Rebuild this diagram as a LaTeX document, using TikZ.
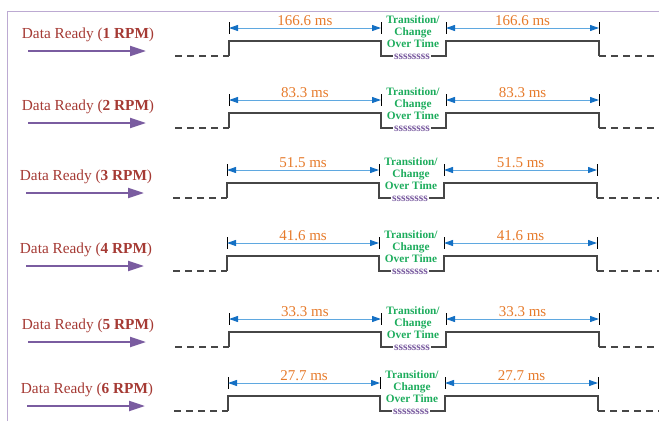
\documentclass[tikz,border=0pt]{standalone}
\usepackage{fontspec}
\setmainfont{Liberation Serif}
\usetikzlibrary{arrows.meta,calc}

\definecolor{lblred}{RGB}{165,58,52}
\definecolor{timeorange}{RGB}{230,122,42}
\definecolor{transgreen}{RGB}{28,172,92}
\definecolor{readypurple}{RGB}{122,92,160}
\definecolor{dimblue}{RGB}{20,112,196}
\definecolor{dimline}{RGB}{95,168,224}
\definecolor{framelav}{RGB}{188,170,210}
\definecolor{sigcol}{RGB}{70,70,70}

\tikzset{
  lbl/.style={text=lblred, font=\fontsize{15.3}{17}\selectfont, inner sep=0pt},
  readyarrow/.style={draw=readypurple, line width=2.2pt,
    -{Triangle[length=16pt,width=10pt]}},
  sig/.style={draw=sigcol, line width=1.3pt},
  sigdash/.style={sig, dash pattern=on 7pt off 5pt},
  squig/.style={text=readypurple, font=\bfseries\fontsize{11.5}{11.5}\selectfont,
    inner sep=1pt},
  tick/.style={draw=black, line width=0.9pt},
  dimarrow/.style={draw=dimline, line width=1pt,
    {Triangle[length=9pt,width=6pt,color=dimblue]}-{Triangle[length=9pt,width=6pt,color=dimblue]}},
  timelbl/.style={text=timeorange, font=\fontsize{15}{17}\selectfont, inner sep=0pt},
  trans/.style={text=transgreen, font=\bfseries\fontsize{11.3}{12}\selectfont,
    align=center, inner sep=0pt},
  frameline/.style={draw=framelav, line width=1pt}
}

\begin{document}
\begin{tikzpicture}[x=1pt, y=-1pt]
  \useasboundingbox (0,0) rectangle (659,421);

  % open frame: left and top edges
  \coordinate (fbl) at (7,421);
  \coordinate (ftl) at (7,11);
  \coordinate (ftr) at (659,11);
  \draw[frameline] (fbl) -- (ftl) -- (ftr);

  % one timing row per rate: high level y, x shift, rpm, period
  \foreach \H/\dx/\rpm/\per [count=\i] in
    {41/0/1/166.6, 113/0/2/83.3, 183/-2/3/51.5,
     256/-2/4/41.6, 332/0/5/33.3, 396/-1/6/27.7}
  {
    % label and data-ready arrow
    \node[lbl] (lbl\i) at (88+\dx,\H-6) {Data Ready (\textbf{\rpm\ RPM})};
    \coordinate (as\i) at (28+\dx,\H+10);
    \coordinate (ae\i) at (146+\dx,\H+10);
    \draw[readyarrow] (as\i) -- (ae\i);

    % waveform points
    \coordinate (d\i)   at (175+\dx,\H+15);
    \coordinate (rl\i)  at (229+\dx,\H+15);
    \coordinate (rh\i)  at (229+\dx,\H);
    \coordinate (fh\i)  at (381+\dx,\H);
    \coordinate (fl\i)  at (381+\dx,\H+15);
    \coordinate (sl\i)  at (446+\dx,\H+15);
    \coordinate (sh\i)  at (446+\dx,\H);
    \coordinate (gh\i)  at (599+\dx,\H);
    \coordinate (gl\i)  at (599+\dx,\H+15);
    \coordinate (e\i)   at (659,\H+15);
    \node[squig] (sq\i) at (412+\dx,\H+15.5) {ssssssss};

    \draw[sigdash] (d\i) -- (rl\i);
    \draw[sig] (rl\i) -- (rh\i) -- (fh\i) -- (fl\i) -- (fl\i -| sq\i.west);
    \draw[sig] (sl\i -| sq\i.east) -- (sl\i) -- (sh\i) -- (gh\i) -- (gl\i);
    \draw[sigdash] (gl\i) -- (e\i);

    % dimension ticks
    \foreach \k/\xx in {a/229, b/381, c/446, d/599}{
      \coordinate (t\k u\i) at (\xx+\dx,\H-19);
      \coordinate (t\k d\i) at (\xx+\dx,\H-7);
      \coordinate (t\k m\i) at (\xx+\dx,\H-13);
      \draw[tick] (t\k u\i) -- (t\k d\i);
    }
    \draw[dimarrow] (tam\i) -- (tbm\i);
    \draw[dimarrow] (tcm\i) -- (tdm\i);

    % period labels
    \node[timelbl] (p\i) at ($(tam\i)!0.5!(tbm\i)+(0,-7)$) {\per\ ms};
    \node[timelbl] (q\i) at ($(tcm\i)!0.5!(tdm\i)+(0,-7)$) {\per\ ms};

    % transition note
    \node[trans] (tr\i) at (413+\dx,\H-9.5) {Transition/\\Change\\Over Time};
  }
\end{tikzpicture}
\end{document}
